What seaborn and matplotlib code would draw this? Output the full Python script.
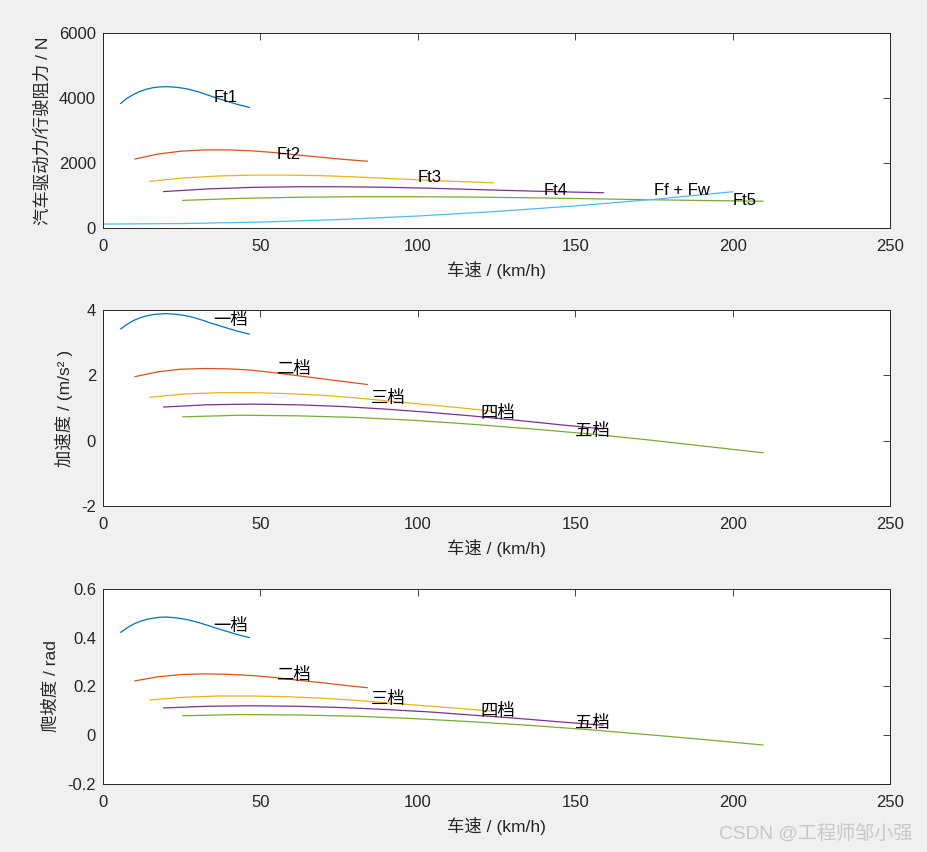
import matplotlib
matplotlib.use("Agg")
import matplotlib.pyplot as plt
import seaborn as sns

# ---------------- data ----------------
v1 = [5.6, 7.6, 9.7, 11.7, 13.8, 15.8, 17.9, 19.9, 22.0, 24.0, 26.1,
      28.1, 30.2, 32.2, 34.2, 36.3, 38.3, 40.4, 42.4, 44.5, 46.5]
v2 = [10.1, 17.5, 24.9, 32.3, 39.7, 47.1, 54.5, 61.8, 69.2, 76.6, 84.0]
v3 = [14.9, 25.9, 36.8, 47.7, 58.7, 69.6, 80.5, 91.2, 102.1, 113.1, 124.0]
v4 = [19.2, 33.2, 47.2, 61.2, 75.2, 89.3, 103.3, 117.0, 131.0, 145.0, 159.0]
v5 = [25.3, 43.7, 62.2, 80.7, 99.2, 117.7, 136.2, 154.2, 172.7, 191.2, 209.7]
speeds = [v1, v2, v3, v4, v5]

Ft1 = [3830, 3990, 4110, 4200, 4270, 4315, 4340, 4348, 4340, 4320, 4290,
       4245, 4190, 4128, 4060, 3993, 3930, 3868, 3810, 3758, 3710]
Ft2 = [2121, 2276, 2364, 2403, 2403, 2375, 2320, 2248, 2176, 2110, 2054]
Ft3 = [1436, 1541, 1601, 1627, 1627, 1609, 1571, 1522, 1474, 1429, 1391]
Ft4 = [1120, 1202, 1249, 1269, 1269, 1254, 1225, 1187, 1149, 1114, 1085]
Ft5 = [849, 911, 947, 962, 962, 951, 929, 900, 871, 845, 823]
drive_force = [Ft1, Ft2, Ft3, Ft4, Ft5]

v_res = [0, 25, 50, 75, 100, 125, 150, 175, 200]
F_res = [120, 136, 182, 260, 369, 509, 680, 882, 1115]

acc1 = [3.42, 3.56, 3.68, 3.76, 3.82, 3.86, 3.88, 3.89, 3.88, 3.86, 3.83,
        3.79, 3.73, 3.67, 3.60, 3.54, 3.48, 3.42, 3.36, 3.31, 3.26]
acc2 = [1.96, 2.11, 2.19, 2.21, 2.20, 2.16, 2.08, 1.99, 1.90, 1.81, 1.72]
acc3 = [1.33, 1.43, 1.47, 1.47, 1.44, 1.39, 1.31, 1.21, 1.11, 1.01, 0.90]
acc4 = [1.03, 1.10, 1.12, 1.10, 1.05, 0.97, 0.87, 0.76, 0.63, 0.49, 0.36]
acc5 = [0.73, 0.78, 0.76, 0.71, 0.62, 0.50, 0.36, 0.21, 0.03, -0.17, -0.37]
acceleration = [acc1, acc2, acc3, acc4, acc5]

grad1 = [0.422, 0.440, 0.456, 0.467, 0.475, 0.480, 0.484, 0.485, 0.483, 0.480, 0.476,
         0.470, 0.463, 0.455, 0.447, 0.438, 0.430, 0.422, 0.414, 0.407, 0.401]
grad2 = [0.223, 0.240, 0.249, 0.252, 0.250, 0.245, 0.237, 0.226, 0.216, 0.205, 0.195]
grad3 = [0.145, 0.156, 0.161, 0.161, 0.158, 0.152, 0.143, 0.132, 0.121, 0.110, 0.098]
grad4 = [0.112, 0.119, 0.121, 0.119, 0.114, 0.106, 0.096, 0.083, 0.070, 0.055, 0.041]
grad5 = [0.080, 0.085, 0.083, 0.078, 0.068, 0.055, 0.040, 0.023, 0.003, -0.018, -0.040]
gradeability = [grad1, grad2, grad3, grad4, grad5]

force_labels = ["Ft1", "Ft2", "Ft3", "Ft4", "Ft5"]
force_label_x = [35, 55, 100, 140, 200]
force_label_y = [4000, 2250, 1550, 1150, 850]
res_label = "Ff + Fw"
res_label_xy = (175, 1150)

gear_labels = ["一档", "二档", "三档", "四档", "五档"]
acc_label_x = [35, 55, 85, 120, 150]
acc_label_y = [3.7, 2.2, 1.3, 0.85, 0.3]
grad_label_x = [35, 55, 85, 120, 150]
grad_label_y = [0.45, 0.247, 0.149, 0.10, 0.05]

x_ticks = [0, 50, 100, 150, 200, 250]
x_ticklabels = ["0", "50", "100", "150", "200", "250"]
y1_ticks = [0, 2000, 4000, 6000]
y1_ticklabels = ["0", "2000", "4000", "6000"]
y2_ticks = [-2, 0, 2, 4]
y2_ticklabels = ["-2", "0", "2", "4"]
y3_ticks = [-0.2, 0, 0.2, 0.4, 0.6]
y3_ticklabels = ["-0.2", "0", "0.2", "0.4", "0.6"]

xlabel = "车速 / (km/h)"
ylabel1 = "汽车驱动力/行驶阻力 / N"
ylabel2 = "加速度 / (m/s² )"
ylabel3 = "爬坡度 / rad"
watermark = "CSDN @工程师邹小强"

# ---------------- style ----------------
gear_colors = ["#0072BD", "#D95319", "#EDB120", "#7E2F8E", "#77AC30"]
res_color = "#4DBEEE"
axis_color = "#262626"

sns.set_style("white")
plt.rcParams["font.family"] = ["Liberation Sans", "Noto Sans CJK SC", "DejaVu Sans"]
plt.rcParams["axes.unicode_minus"] = False

fig = plt.figure(figsize=(9.28, 8.52), dpi=100)
fig.patch.set_facecolor("#F0F0F0")

left, width = 0.111, 0.848
ax1 = fig.add_axes([left, 0.7324, width, 0.2289])
ax2 = fig.add_axes([left, 0.4061, width, 0.2300])
ax3 = fig.add_axes([left, 0.0798, width, 0.2289])

lw = 0.9
for v, F, c in zip(speeds, drive_force, gear_colors):
    sns.lineplot(x=v, y=F, ax=ax1, color=c, linewidth=lw, legend=False)
sns.lineplot(x=v_res, y=F_res, ax=ax1, color=res_color, linewidth=lw, legend=False)
for v, a, c in zip(speeds, acceleration, gear_colors):
    sns.lineplot(x=v, y=a, ax=ax2, color=c, linewidth=lw, legend=False)
for v, g, c in zip(speeds, gradeability, gear_colors):
    sns.lineplot(x=v, y=g, ax=ax3, color=c, linewidth=lw, legend=False)

txt = dict(ha="left", va="center", color="black", fontsize=12)
txt_cn = dict(ha="left", va="center", color="black", fontsize=12.5)
for s, x, y in zip(force_labels, force_label_x, force_label_y):
    ax1.text(x, y, s, **txt)
ax1.text(res_label_xy[0], res_label_xy[1], res_label, **txt)
for s, x, y in zip(gear_labels, acc_label_x, acc_label_y):
    ax2.text(x, y, s, **txt_cn)
for s, x, y in zip(gear_labels, grad_label_x, grad_label_y):
    ax3.text(x, y, s, **txt_cn)

for ax, yt, ytl, yl in [(ax1, y1_ticks, y1_ticklabels, ylabel1),
                        (ax2, y2_ticks, y2_ticklabels, ylabel2),
                        (ax3, y3_ticks, y3_ticklabels, ylabel3)]:
    ax.set_facecolor("white")
    ax.set_xlim(x_ticks[0], x_ticks[-1])
    ax.set_ylim(yt[0], yt[-1])
    ax.set_xticks(x_ticks)
    ax.set_xticklabels(x_ticklabels)
    ax.set_yticks(yt)
    ax.set_yticklabels(ytl)
    ax.tick_params(direction="in", length=5, width=0.6, colors=axis_color,
                   labelsize=12, top=True, right=True)
    ax.tick_params(axis="x", pad=8)
    ax.tick_params(axis="y", pad=5)
    for sp in ax.spines.values():
        sp.set_visible(True)
        sp.set_color(axis_color)
        sp.set_linewidth(0.7)
    ax.set_xlabel(xlabel, fontsize=12.5, color=axis_color, labelpad=5)
    ax.set_ylabel(yl, fontsize=12.5, color=axis_color, labelpad=6)

fig.text(0.983, 0.022, watermark, ha="right", va="center", fontsize=13.8,
         color="#C8C8C8")

fig.savefig("out.png", dpi=100, facecolor=fig.get_facecolor())
